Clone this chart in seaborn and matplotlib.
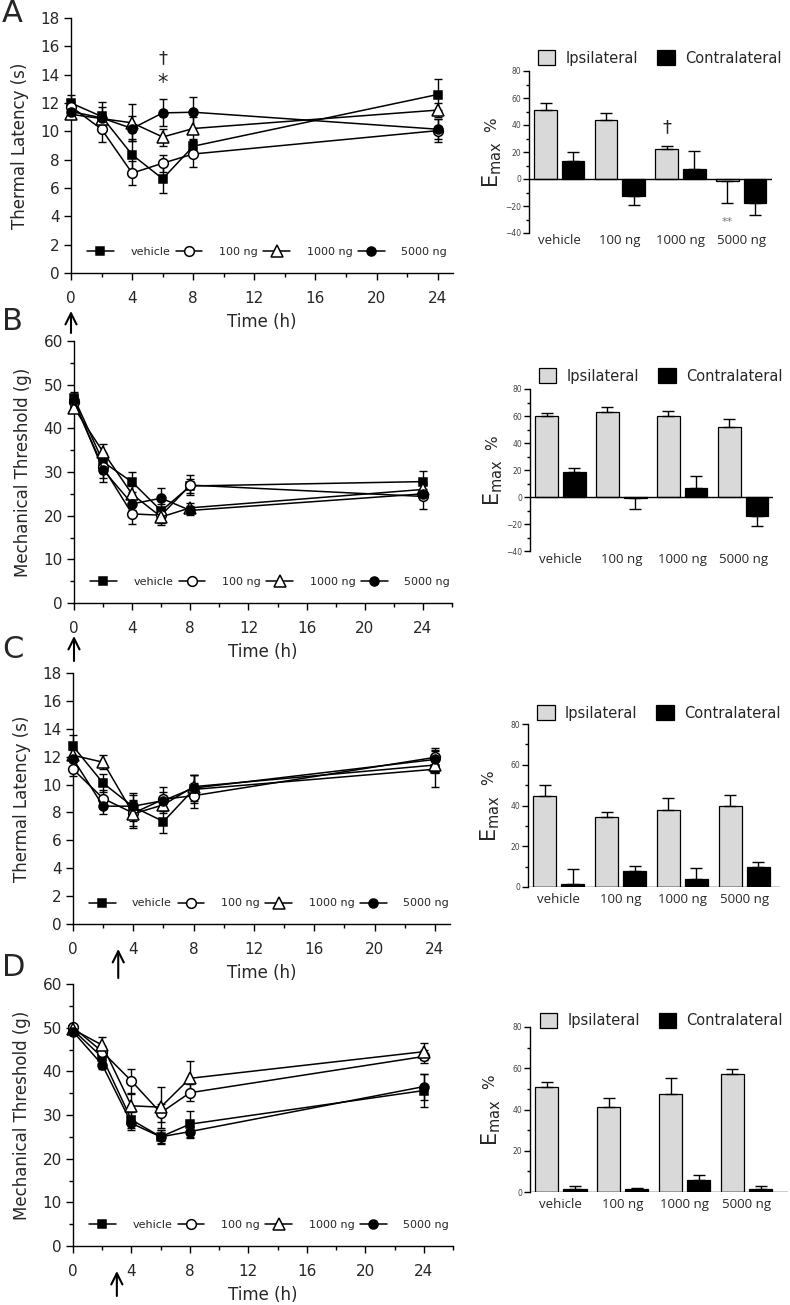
import pandas as pd
import matplotlib
matplotlib.use('Agg')
import matplotlib.pyplot as plt
import matplotlib.transforms as mtransforms
from matplotlib.ticker import MultipleLocator
import seaborn as sns

sns.set_theme(style='ticks')
plt.rcParams['font.family'] = ['DejaVu Sans']
plt.rcParams['axes.linewidth'] = 1.0
plt.rcParams['axes.edgecolor'] = 'black'

W, H = 790, 1305

time_h = [0, 2, 4, 6, 8, 24]
doses = ['vehicle', '100 ng', '1000 ng', '5000 ng']
sides = ['Ipsilateral', 'Contralateral']

# A: thermal latency (s)
a_mean = {'vehicle': [12.0, 11.05, 8.35, 6.65, 8.95, 12.6],
          '100 ng': [11.75, 10.15, 7.05, 7.75, 8.4, 10.05],
          '1000 ng': [11.2, 10.9, 10.6, 9.6, 10.2, 11.5],
          '5000 ng': [11.4, 10.95, 10.2, 11.3, 11.35, 10.15]}
a_se = {'vehicle': [0.6, 1.0, 1.1, 1.0, 0.5, 1.1],
        '100 ng': [0.3, 0.9, 0.85, 0.6, 0.9, 0.8],
        '1000 ng': [0.3, 0.4, 1.3, 0.6, 0.8, 0.5],
        '5000 ng': [0.4, 0.8, 0.9, 0.95, 1.1, 0.7]}
a_ipsi = [50.9, 44.0, 22.1, -1.5]
a_ipsi_se = [5.7, 5.2, 2.7, 16.6]
a_contra = [13.2, -12.7, 7.2, -18.1]
a_contra_se = [6.7, 6.9, 13.9, 8.7]

# B: mechanical threshold (g)
b_mean = {'vehicle': [47.0, 32.3, 27.7, 21.1, 26.8, 27.8],
          '100 ng': [46.0, 31.1, 20.4, 20.1, 27.0, 24.4],
          '1000 ng': [44.7, 34.6, 24.9, 19.7, 21.8, 26.0],
          '5000 ng': [46.4, 30.5, 22.7, 24.0, 21.2, 25.0]}
b_se = {'vehicle': [1.3, 2.0, 2.3, 1.5, 1.5, 2.5],
        '100 ng': [1.2, 2.5, 2.2, 1.8, 2.3, 2.8],
        '1000 ng': [1.0, 1.9, 2.0, 1.9, 1.2, 1.5],
        '5000 ng': [1.2, 2.8, 1.5, 2.4, 1.0, 1.2]}
b_ipsi = [59.8, 62.7, 60.2, 51.9]
b_ipsi_se = [2.7, 4.0, 3.5, 5.6]
b_contra = [18.5, -0.7, 6.9, -14.1]
b_contra_se = [3.2, 7.9, 8.7, 7.6]

# C: thermal latency (s)
c_mean = {'vehicle': [12.75, 10.1, 8.4, 7.35, 9.65, 11.1],
          '100 ng': [11.1, 9.0, 7.95, 8.95, 9.2, 11.95],
          '1000 ng': [12.1, 11.6, 7.9, 8.55, 9.85, 11.4],
          '5000 ng': [11.85, 8.45, 8.45, 8.85, 9.75, 11.8]}
c_se = {'vehicle': [0.8, 0.65, 1.0, 0.8, 1.0, 1.3],
        '100 ng': [0.5, 0.6, 0.9, 0.85, 0.9, 0.65],
        '1000 ng': [0.5, 0.5, 1.0, 0.6, 0.8, 0.6],
        '5000 ng': [0.6, 0.55, 0.8, 0.6, 0.9, 0.7]}
c_ipsi = [44.7, 34.2, 37.8, 39.8]
c_ipsi_se = [5.5, 2.8, 5.8, 5.4]
c_contra = [1.6, 7.9, 3.9, 9.9]
c_contra_se = [7.4, 2.3, 5.6, 2.4]

# D: mechanical threshold (g)
d_mean = {'vehicle': [49.5, 43.2, 28.9, 25.0, 27.9, 35.6],
          '100 ng': [50.1, 44.5, 37.8, 30.5, 35.1, 43.4],
          '1000 ng': [49.6, 46.0, 32.1, 31.8, 38.4, 44.5],
          '5000 ng': [49.1, 41.5, 28.1, 25.0, 26.2, 36.5]}
d_se = {'vehicle': [1.0, 1.2, 1.8, 1.6, 3.1, 3.8],
        '100 ng': [0.8, 1.2, 2.7, 2.0, 2.0, 1.5],
        '1000 ng': [0.8, 1.9, 2.8, 4.7, 3.9, 2.0],
        '5000 ng': [0.8, 1.0, 1.6, 1.5, 1.2, 3.0]}
d_ipsi = [50.7, 41.3, 47.5, 57.0]
d_ipsi_se = [2.8, 4.1, 7.6, 2.5]
d_contra = [1.6, 1.5, 5.7, 1.6]
d_contra_se = [1.3, 0.4, 2.4, 1.3]

marker_style = {'vehicle': ('s', 'black', 6),
                '100 ng': ('o', 'white', 7),
                '1000 ng': ('^', 'white', 8.5),
                '5000 ng': ('o', 'black', 6.5)}


def px_axes(left, right, top, bottom):
    return [left / W, 1 - bottom / H, (right - left) / W, (bottom - top) / H]


fig = plt.figure(figsize=(7.9, 13.05), dpi=100)


def time_panel(rect, mean, se, ymax, ystep, yminor, ylabel, xmax, arrow_x, arrow_px):
    ax = fig.add_axes(px_axes(*rect))
    for dose in doses:
        ax.errorbar(time_h, mean[dose], yerr=se[dose], fmt='none', ecolor='black',
                    elinewidth=1, capsize=3, capthick=1, clip_on=False, zorder=2)
    for dose in doses:
        m, fc, ms = marker_style[dose]
        sns.lineplot(x=time_h, y=mean[dose], ax=ax, color='black', lw=1.1,
                     marker=m, markersize=ms, markerfacecolor=fc,
                     markeredgecolor='black', markeredgewidth=1.1,
                     label=dose, clip_on=False, zorder=3)
    ax.set_xlim(0, xmax)
    ax.set_ylim(0, ymax)
    ax.xaxis.set_major_locator(MultipleLocator(4))
    ax.xaxis.set_minor_locator(MultipleLocator(2))
    ax.yaxis.set_major_locator(MultipleLocator(ystep))
    if yminor:
        ax.yaxis.set_minor_locator(MultipleLocator(yminor))
    ax.tick_params(axis='both', which='major', length=5, width=1, labelsize=11, color='black')
    ax.tick_params(axis='both', which='minor', length=3, width=1, color='black')
    ax.tick_params(axis='x', pad=8)
    ax.tick_params(axis='y', pad=3)
    sns.despine(ax=ax)
    ax.set_xlabel('Time (h)', fontsize=12, labelpad=5)
    ax.set_ylabel(ylabel, fontsize=12, labelpad=8)
    ax.legend(loc='center left', bbox_to_anchor=(0.042, 0.082), ncol=4, frameon=False,
              fontsize=8, handlelength=2.4, handletextpad=1.5, columnspacing=0.5,
              borderpad=0, borderaxespad=0)
    tr = mtransforms.blended_transform_factory(ax.transData, fig.transFigure)
    ax.annotate('', xy=(arrow_x, 1 - arrow_px[0] / H), xytext=(arrow_x, 1 - arrow_px[1] / H),
                xycoords=tr, textcoords=tr,
                arrowprops=dict(arrowstyle='->', lw=1.5, color='black', mutation_scale=20,
                                shrinkA=0, shrinkB=0))
    return ax


def emax_panel(rect, ipsi, ipsi_se, contra, contra_se, ylim, xmax, leg_y, xpad):
    ax = fig.add_axes(px_axes(*rect))
    df = pd.DataFrame({'dose': doses * 2,
                       'side': [sides[0]] * 4 + [sides[1]] * 4,
                       'emax': ipsi + contra})
    sns.barplot(data=df, x='dose', y='emax', hue='side', order=doses, hue_order=sides,
                palette={'Ipsilateral': '#d9d9d9', 'Contralateral': 'black'},
                edgecolor='black', linewidth=0.9, width=0.91, gap=0.18,
                errorbar=None, ax=ax)
    for cont, vals, errs in zip(ax.containers[:2], [ipsi, contra], [ipsi_se, contra_se]):
        xs = [b.get_x() + b.get_width() / 2 for b in cont]
        lo = [e if v < 0 else 0 for v, e in zip(vals, errs)]
        hi = [e if v >= 0 else 0 for v, e in zip(vals, errs)]
        ax.errorbar(xs, vals, yerr=[lo, hi], fmt='none', ecolor='black',
                    elinewidth=1, capsize=4, capthick=1, zorder=1)
    ax.axhline(0, color='black', lw=1, zorder=4)
    ax.set_xlim(-0.5, xmax)
    ax.set_ylim(*ylim)
    ax.yaxis.set_major_locator(MultipleLocator(20))
    ax.yaxis.set_minor_locator(MultipleLocator(10))
    ax.tick_params(axis='y', which='major', length=4, width=1, labelsize=5.5,
                   labelcolor='#444444', pad=1.5, color='black')
    ax.tick_params(axis='y', which='minor', length=2.5, width=1, color='black')
    ax.tick_params(axis='x', length=0, pad=xpad, labelsize=9.5)
    for t in ax.get_xticklabels():
        t.set_fontfamily(['Open Sans', 'DejaVu Sans'])
    ax.spines[['top', 'right', 'bottom']].set_visible(False)
    ax.set_xlabel('')
    ax.set_ylabel('')
    ax.text(-0.15, 0.42, r'E$_{\rm max}$', transform=ax.transAxes, rotation=90,
            ha='center', va='center', fontsize=15)
    ax.text(-0.155, 0.67, '%', transform=ax.transAxes, rotation=90,
            ha='center', va='center', fontsize=11)
    sns.move_legend(ax, 'center left', bbox_to_anchor=(0.037, leg_y), ncol=2,
                    frameon=False, title=None, fontsize=10.5, handlelength=1.2,
                    handleheight=1.2, handletextpad=0.7, columnspacing=1.3,
                    borderpad=0, borderaxespad=0)
    for h in ax.get_legend().legend_handles:
        h.set_edgecolor('black')
        h.set_linewidth(0.9)
    return ax


ax_a = time_panel((71, 453, 18, 273), a_mean, a_se, 18, 2, None, 'Thermal Latency (s)', 25, 0, (311, 333))
ax_a.text(6, 15.2, '†', ha='center', va='center', fontsize=13)
ax_a.text(6, 13.4, '*', ha='center', va='center', fontsize=15)
bx_a = emax_panel((529, 772, 71, 233), a_ipsi, a_ipsi_se, a_contra, a_contra_se, (-40, 80), 3.51, 1.08, 1)
c_ip = bx_a.containers[0]
bx_a.text(c_ip[2].get_x() + c_ip[2].get_width() / 2, 38.5, '†', ha='center', va='center', fontsize=13)
bx_a.text(c_ip[3].get_x() + c_ip[3].get_width() / 2, -32, '**', ha='center', va='center',
          fontsize=8, color='#777777')

time_panel((74, 452, 341, 603), b_mean, b_se, 60, 10, 5, 'Mechanical Threshold (g)', 26, 0, (636, 661))
emax_panel((530, 773, 389, 551), b_ipsi, b_ipsi_se, b_contra, b_contra_se, (-40, 80), 3.49, 1.08, 1.5)

time_panel((73, 450, 673, 924), c_mean, c_se, 18, 2, None, 'Thermal Latency (s)', 25, 3, (949, 978))
emax_panel((528, 780, 724, 887), c_ipsi, c_ipsi_se, c_contra, c_contra_se, (0, 80), 3.58, 1.068, 4)

time_panel((73, 453, 984, 1246), d_mean, d_se, 60, 10, 5, 'Mechanical Threshold (g)', 26, 3, (1271, 1296))
emax_panel((530, 788, 1027, 1192), d_ipsi, d_ipsi_se, d_contra, d_contra_se, (0, 80), 3.67, 1.04, 4)

for letter, ypx in zip('ABCD', [13, 322, 650, 968]):
    fig.text(2 / W, 1 - ypx / H, letter, fontsize=22, ha='left', va='center')

fig.savefig('out.png', dpi=100)
